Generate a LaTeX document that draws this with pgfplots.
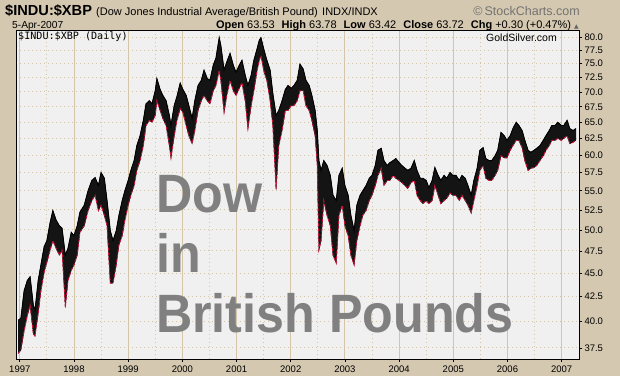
\documentclass[border=0pt]{standalone}
\usepackage{fontspec}
\setmainfont{Liberation Sans}
\newfontfamily\monofont{DejaVu Sans Mono}
\newfontfamily\symfont{DejaVu Sans}
\usepackage{graphicx}
\usepackage{pgfplots}
\pgfplotsset{compat=1.18}
\usepackage{pgfplotstable}
\definecolor{tanbg}{RGB}{213,200,176}
\definecolor{plotbg}{RGB}{240,240,240}
\definecolor{gridtan}{RGB}{212,196,168}
\definecolor{barred}{RGB}{208,16,58}
\definecolor{bigtxt}{RGB}{128,128,128}

% daily range envelope: t = decimal year, lo / hi = low / high
\pgfplotstableread{
t lo hi
1996.97 37.0 40.1
1997.02 37.3 40.3
1997.08 39.1 43.1
1997.14 40.6 44.2
1997.19 41.6 44.6
1997.25 38.8 41.6
1997.28 38.6 41.1
1997.34 40.8 44.2
1997.39 43.1 45.9
1997.45 45.1 48.0
1997.50 46.2 48.7
1997.56 47.6 50.9
1997.61 48.7 52.4
1997.67 47.8 51.2
1997.73 47.0 50.5
1997.78 47.6 50.2
1997.84 41.4 47.0
1997.89 44.2 47.8
1997.95 45.3 49.7
1998.00 45.9 49.3
1998.06 47.0 50.5
1998.11 49.7 52.2
1998.19 50.5 53.1
1998.26 52.4 55.0
1998.33 53.7 56.4
1998.39 54.4 56.8
1998.45 52.4 55.7
1998.50 53.1 57.5
1998.56 51.8 56.7
1998.61 50.5 53.7
1998.67 43.9 49.9
1998.72 43.9 48.7
1998.78 45.9 49.9
1998.83 48.2 51.8
1998.89 49.3 53.7
1998.94 51.2 55.0
1999.00 53.1 56.4
1999.05 54.4 57.8
1999.11 55.7 59.2
1999.16 57.8 61.4
1999.22 59.2 62.9
1999.28 61.4 65.3
1999.33 64.5 68.0
1999.39 65.3 68.5
1999.44 65.0 68.0
1999.50 66.1 70.2
1999.53 68.5 72.3
1999.59 66.9 70.4
1999.64 65.6 69.4
1999.70 64.5 68.5
1999.76 61.4 66.1
1999.79 59.6 64.5
1999.85 62.9 67.7
1999.90 65.3 69.2
1999.96 67.2 71.5
2000.01 66.6 70.4
2000.07 64.5 69.4
2000.12 62.9 67.7
2000.18 61.7 65.6
2000.23 63.7 68.5
2000.29 66.9 71.1
2000.35 68.5 72.0
2000.40 69.4 73.8
2000.46 68.5 72.3
2000.51 68.0 72.0
2000.57 70.2 74.7
2000.62 71.1 76.0
2000.68 73.8 79.9
2000.71 72.0 78.4
2000.77 66.6 73.8
2000.82 69.4 75.3
2000.88 72.0 76.9
2000.94 70.2 74.7
2000.99 69.4 73.4
2001.05 70.6 74.7
2001.10 71.6 75.6
2001.16 68.5 72.9
2001.21 64.0 71.1
2001.27 67.7 72.9
2001.32 70.2 75.6
2001.38 73.8 77.8
2001.42 75.6 79.4
2001.45 76.5 79.9
2001.51 73.4 77.4
2001.56 72.0 75.6
2001.62 68.5 73.8
2001.67 64.5 69.7
2001.73 55.2 66.1
2001.78 61.4 66.9
2001.84 63.7 68.5
2001.90 66.9 70.4
2001.95 66.9 71.1
2002.01 67.7 70.6
2002.06 67.7 71.1
2002.12 68.5 72.0
2002.17 70.2 74.9
2002.23 70.2 74.0
2002.28 67.7 72.0
2002.34 66.9 71.1
2002.39 65.3 69.4
2002.45 62.9 66.9
2002.49 58.5 63.7
2002.52 47.6 59.2
2002.56 48.7 57.8
2002.61 53.7 59.2
2002.67 51.8 58.5
2002.73 50.5 57.1
2002.78 47.0 54.4
2002.84 46.1 53.7
2002.89 51.8 57.1
2002.95 53.1 58.1
2003.00 50.5 55.7
2003.06 49.3 54.4
2003.11 47.0 51.8
2003.17 45.9 49.9
2003.22 48.7 53.1
2003.28 50.5 54.4
2003.33 51.8 55.0
2003.39 52.4 55.7
2003.45 53.7 56.7
2003.50 54.4 57.1
2003.56 55.7 58.5
2003.61 57.1 60.7
2003.67 58.1 61.0
2003.72 55.7 59.2
2003.78 56.4 58.5
2003.83 56.4 58.9
2003.89 57.1 59.2
2003.94 56.7 59.5
2004.00 56.4 58.9
2004.05 56.1 58.5
2004.11 55.7 58.1
2004.16 55.3 57.8
2004.22 56.1 58.1
2004.28 56.4 59.2
2004.33 54.4 57.8
2004.39 53.7 56.7
2004.44 53.3 56.7
2004.50 53.7 56.4
2004.55 53.3 55.4
2004.61 53.7 56.4
2004.66 55.7 58.2
2004.72 54.4 57.1
2004.77 53.3 56.4
2004.83 53.7 57.1
2004.88 54.0 56.7
2004.94 54.7 57.5
2004.99 54.4 57.1
2005.05 54.4 57.1
2005.11 53.7 56.4
2005.16 54.4 57.1
2005.22 53.7 56.7
2005.27 53.1 55.7
2005.33 52.1 54.4
2005.38 53.7 56.4
2005.44 55.7 58.1
2005.49 57.8 60.7
2005.55 58.5 61.1
2005.60 56.7 59.5
2005.66 56.4 59.2
2005.71 56.4 59.2
2005.77 57.1 59.9
2005.82 57.8 60.7
2005.88 59.9 63.4
2005.94 59.6 62.9
2005.99 59.6 62.2
2006.05 60.7 62.9
2006.10 61.4 64.0
2006.16 62.2 65.0
2006.21 62.2 64.5
2006.27 61.1 63.7
2006.32 59.2 62.2
2006.38 57.8 60.7
2006.43 58.1 60.4
2006.49 58.2 60.7
2006.54 58.5 61.0
2006.60 59.2 61.4
2006.66 59.9 62.2
2006.71 60.7 62.9
2006.77 61.4 63.7
2006.82 62.2 64.5
2006.88 62.2 64.5
2006.93 62.5 65.0
2006.99 62.2 64.5
2007.04 62.5 64.5
2007.10 62.9 65.3
2007.15 61.7 64.0
2007.21 61.9 63.7
2007.26 62.2 64.0
}\pricedata

% the same envelope as one closed outline: highs forward, lows backward
\pgfplotstableread{
t v
1996.97 40.1
1997.02 40.3
1997.08 43.1
1997.14 44.2
1997.19 44.6
1997.25 41.6
1997.28 41.1
1997.34 44.2
1997.39 45.9
1997.45 48.0
1997.50 48.7
1997.56 50.9
1997.61 52.4
1997.67 51.2
1997.73 50.5
1997.78 50.2
1997.84 47.0
1997.89 47.8
1997.95 49.7
1998.00 49.3
1998.06 50.5
1998.11 52.2
1998.19 53.1
1998.26 55.0
1998.33 56.4
1998.39 56.8
1998.45 55.7
1998.50 57.5
1998.56 56.7
1998.61 53.7
1998.67 49.9
1998.72 48.7
1998.78 49.9
1998.83 51.8
1998.89 53.7
1998.94 55.0
1999.00 56.4
1999.05 57.8
1999.11 59.2
1999.16 61.4
1999.22 62.9
1999.28 65.3
1999.33 68.0
1999.39 68.5
1999.44 68.0
1999.50 70.2
1999.53 72.3
1999.59 70.4
1999.64 69.4
1999.70 68.5
1999.76 66.1
1999.79 64.5
1999.85 67.7
1999.90 69.2
1999.96 71.5
2000.01 70.4
2000.07 69.4
2000.12 67.7
2000.18 65.6
2000.23 68.5
2000.29 71.1
2000.35 72.0
2000.40 73.8
2000.46 72.3
2000.51 72.0
2000.57 74.7
2000.62 76.0
2000.68 79.9
2000.71 78.4
2000.77 73.8
2000.82 75.3
2000.88 76.9
2000.94 74.7
2000.99 73.4
2001.05 74.7
2001.10 75.6
2001.16 72.9
2001.21 71.1
2001.27 72.9
2001.32 75.6
2001.38 77.8
2001.42 79.4
2001.45 79.9
2001.51 77.4
2001.56 75.6
2001.62 73.8
2001.67 69.7
2001.73 66.1
2001.78 66.9
2001.84 68.5
2001.90 70.4
2001.95 71.1
2002.01 70.6
2002.06 71.1
2002.12 72.0
2002.17 74.9
2002.23 74.0
2002.28 72.0
2002.34 71.1
2002.39 69.4
2002.45 66.9
2002.49 63.7
2002.52 59.2
2002.56 57.8
2002.61 59.2
2002.67 58.5
2002.73 57.1
2002.78 54.4
2002.84 53.7
2002.89 57.1
2002.95 58.1
2003.00 55.7
2003.06 54.4
2003.11 51.8
2003.17 49.9
2003.22 53.1
2003.28 54.4
2003.33 55.0
2003.39 55.7
2003.45 56.7
2003.50 57.1
2003.56 58.5
2003.61 60.7
2003.67 61.0
2003.72 59.2
2003.78 58.5
2003.83 58.9
2003.89 59.2
2003.94 59.5
2004.00 58.9
2004.05 58.5
2004.11 58.1
2004.16 57.8
2004.22 58.1
2004.28 59.2
2004.33 57.8
2004.39 56.7
2004.44 56.7
2004.50 56.4
2004.55 55.4
2004.61 56.4
2004.66 58.2
2004.72 57.1
2004.77 56.4
2004.83 57.1
2004.88 56.7
2004.94 57.5
2004.99 57.1
2005.05 57.1
2005.11 56.4
2005.16 57.1
2005.22 56.7
2005.27 55.7
2005.33 54.4
2005.38 56.4
2005.44 58.1
2005.49 60.7
2005.55 61.1
2005.60 59.5
2005.66 59.2
2005.71 59.2
2005.77 59.9
2005.82 60.7
2005.88 63.4
2005.94 62.9
2005.99 62.2
2006.05 62.9
2006.10 64.0
2006.16 65.0
2006.21 64.5
2006.27 63.7
2006.32 62.2
2006.38 60.7
2006.43 60.4
2006.49 60.7
2006.54 61.0
2006.60 61.4
2006.66 62.2
2006.71 62.9
2006.77 63.7
2006.82 64.5
2006.88 64.5
2006.93 65.0
2006.99 64.5
2007.04 64.5
2007.10 65.3
2007.15 64.0
2007.21 63.7
2007.26 64.0
2007.26 62.2
2007.21 61.9
2007.15 61.7
2007.10 62.9
2007.04 62.5
2006.99 62.2
2006.93 62.5
2006.88 62.2
2006.82 62.2
2006.77 61.4
2006.71 60.7
2006.66 59.9
2006.60 59.2
2006.54 58.5
2006.49 58.2
2006.43 58.1
2006.38 57.8
2006.32 59.2
2006.27 61.1
2006.21 62.2
2006.16 62.2
2006.10 61.4
2006.05 60.7
2005.99 59.6
2005.94 59.6
2005.88 59.9
2005.82 57.8
2005.77 57.1
2005.71 56.4
2005.66 56.4
2005.60 56.7
2005.55 58.5
2005.49 57.8
2005.44 55.7
2005.38 53.7
2005.33 52.1
2005.27 53.1
2005.22 53.7
2005.16 54.4
2005.11 53.7
2005.05 54.4
2004.99 54.4
2004.94 54.7
2004.88 54.0
2004.83 53.7
2004.77 53.3
2004.72 54.4
2004.66 55.7
2004.61 53.7
2004.55 53.3
2004.50 53.7
2004.44 53.3
2004.39 53.7
2004.33 54.4
2004.28 56.4
2004.22 56.1
2004.16 55.3
2004.11 55.7
2004.05 56.1
2004.00 56.4
2003.94 56.7
2003.89 57.1
2003.83 56.4
2003.78 56.4
2003.72 55.7
2003.67 58.1
2003.61 57.1
2003.56 55.7
2003.50 54.4
2003.45 53.7
2003.39 52.4
2003.33 51.8
2003.28 50.5
2003.22 48.7
2003.17 45.9
2003.11 47.0
2003.06 49.3
2003.00 50.5
2002.95 53.1
2002.89 51.8
2002.84 46.1
2002.78 47.0
2002.73 50.5
2002.67 51.8
2002.61 53.7
2002.56 48.7
2002.52 47.6
2002.49 58.5
2002.45 62.9
2002.39 65.3
2002.34 66.9
2002.28 67.7
2002.23 70.2
2002.17 70.2
2002.12 68.5
2002.06 67.7
2002.01 67.7
2001.95 66.9
2001.90 66.9
2001.84 63.7
2001.78 61.4
2001.73 55.2
2001.67 64.5
2001.62 68.5
2001.56 72.0
2001.51 73.4
2001.45 76.5
2001.42 75.6
2001.38 73.8
2001.32 70.2
2001.27 67.7
2001.21 64.0
2001.16 68.5
2001.10 71.6
2001.05 70.6
2000.99 69.4
2000.94 70.2
2000.88 72.0
2000.82 69.4
2000.77 66.6
2000.71 72.0
2000.68 73.8
2000.62 71.1
2000.57 70.2
2000.51 68.0
2000.46 68.5
2000.40 69.4
2000.35 68.5
2000.29 66.9
2000.23 63.7
2000.18 61.7
2000.12 62.9
2000.07 64.5
2000.01 66.6
1999.96 67.2
1999.90 65.3
1999.85 62.9
1999.79 59.6
1999.76 61.4
1999.70 64.5
1999.64 65.6
1999.59 66.9
1999.53 68.5
1999.50 66.1
1999.44 65.0
1999.39 65.3
1999.33 64.5
1999.28 61.4
1999.22 59.2
1999.16 57.8
1999.11 55.7
1999.05 54.4
1999.00 53.1
1998.94 51.2
1998.89 49.3
1998.83 48.2
1998.78 45.9
1998.72 43.9
1998.67 43.9
1998.61 50.5
1998.56 51.8
1998.50 53.1
1998.45 52.4
1998.39 54.4
1998.33 53.7
1998.26 52.4
1998.19 50.5
1998.11 49.7
1998.06 47.0
1998.00 45.9
1997.95 45.3
1997.89 44.2
1997.84 41.4
1997.78 47.6
1997.73 47.0
1997.67 47.8
1997.61 48.7
1997.56 47.6
1997.50 46.2
1997.45 45.1
1997.39 43.1
1997.34 40.8
1997.28 38.6
1997.25 38.8
1997.19 41.6
1997.14 40.6
1997.08 39.1
1997.02 37.3
1996.97 37.0
}\banddata

\begin{document}
\begin{tikzpicture}[x=1pt,y=1pt]
\fill[tanbg] (0,0) rectangle (620,376);
\begin{axis}[
  at={(16pt,17pt)}, anchor=south west,
  scale only axis, width=563pt, height=329pt,
  xmin=1996.93, xmax=2007.32,
  ymode=log, ymin=36.5, ymax=81.4,
  axis background/.style={fill=plotbg},
  axis line style={black, line width=0.8pt},
  xtick={1997,1998,1999,2000,2001,2002,2003,2004,2005,2006,2007},
  xticklabels={1997,1998,1999,2000,2001,2002,2003,2004,2005,2006,2007},
  minor xtick={1997.5,1998.5,1999.5,2000.5,2001.5,2002.5,2003.5,2004.5,2005.5,2006.5},
  ytick={37.5,40,42.5,45,47.5,50,52.5,55,57.5,60,62.5,65,67.5,70,72.5,75,77.5,80},
  yticklabels={37.5,40.0,42.5,45.0,47.5,50.0,52.5,55.0,57.5,60.0,62.5,65.0,67.5,70.0,72.5,75.0,77.5,80.0},
  xtick pos=left, ytick pos=right,
  tick align=outside, major tick length=3pt, minor tick length=0pt,
  tick style={black, line width=0.6pt},
  xmajorgrids, xminorgrids, ymajorgrids,
  major x grid style={gridtan, line width=0.9pt},
  minor x grid style={gridtan, line width=0.9pt, dash pattern=on 1pt off 3pt},
  major y grid style={gridtan, line width=0.9pt, dash pattern=on 1pt off 3pt},
  ticklabel style={font=\fontsize{9.5}{10}\selectfont, black},
  yticklabel style={xshift=-1pt},
  clip=true,
]
\addplot[fill=black!92, draw=black!92, line width=0.5pt] table[x=t, y=v]{\banddata};
\addplot[draw=black, line width=0.9pt] table[x=t, y=hi]{\pricedata};
\addplot[draw=barred, line width=0.9pt, dash pattern=on 3pt off 2pt] table[x=t, y=lo]{\pricedata};
\end{axis}
% header
\node[anchor=base west, inner sep=0] at (5,361) {\fontsize{14.6}{15}\selectfont\bfseries \$INDU:\$XBP};
\node[anchor=base west, inner sep=0] at (96,361) {\fontsize{11}{11}\selectfont (Dow Jones Industrial Average/British Pound)};
\node[anchor=base west, inner sep=0] at (322,361) {\fontsize{11}{11}\selectfont INDX/INDX};
\node[anchor=base east, inner sep=0, text=black!55] at (580,361) {\fontsize{12.5}{13}\selectfont \textcopyright\,StockCharts.com};
\node[anchor=base west, inner sep=0] at (12,348) {\fontsize{10.2}{11}\selectfont 5-Apr-2007};
\node[anchor=base east, inner sep=0] at (579,348) {\fontsize{11}{11}\selectfont \textbf{Open} 63.53\hspace{7pt}\textbf{High} 63.78\hspace{7pt}\textbf{Low} 63.42\hspace{7pt}\textbf{Close} 63.72\hspace{7pt}\textbf{Chg} +0.30 (+0.47\%) {\symfont\fontsize{6}{6}\selectfont\textcolor{black!60}{▲}}};
% in-plot labels
\node[anchor=base west, inner sep=0] at (18,337) {\monofont\fontsize{10.1}{11}\selectfont \$INDU:\$XBP (Daily)};
\node[anchor=base east, inner sep=0] at (557,335) {\fontsize{10.5}{11}\selectfont GoldSilver.com};
% big text
\node[anchor=base west, inner sep=0, text=bigtxt] at (156,164) {\scalebox{0.93}[1]{\fontsize{54}{54}\selectfont\bfseries Dow}};
\node[anchor=base west, inner sep=0, text=bigtxt] at (156,104) {\scalebox{0.93}[1]{\fontsize{54}{54}\selectfont\bfseries in}};
\node[anchor=base west, inner sep=0, text=bigtxt] at (156,44) {\scalebox{0.93}[1]{\fontsize{54}{54}\selectfont\bfseries British Pounds}};
\end{tikzpicture}
\end{document}
